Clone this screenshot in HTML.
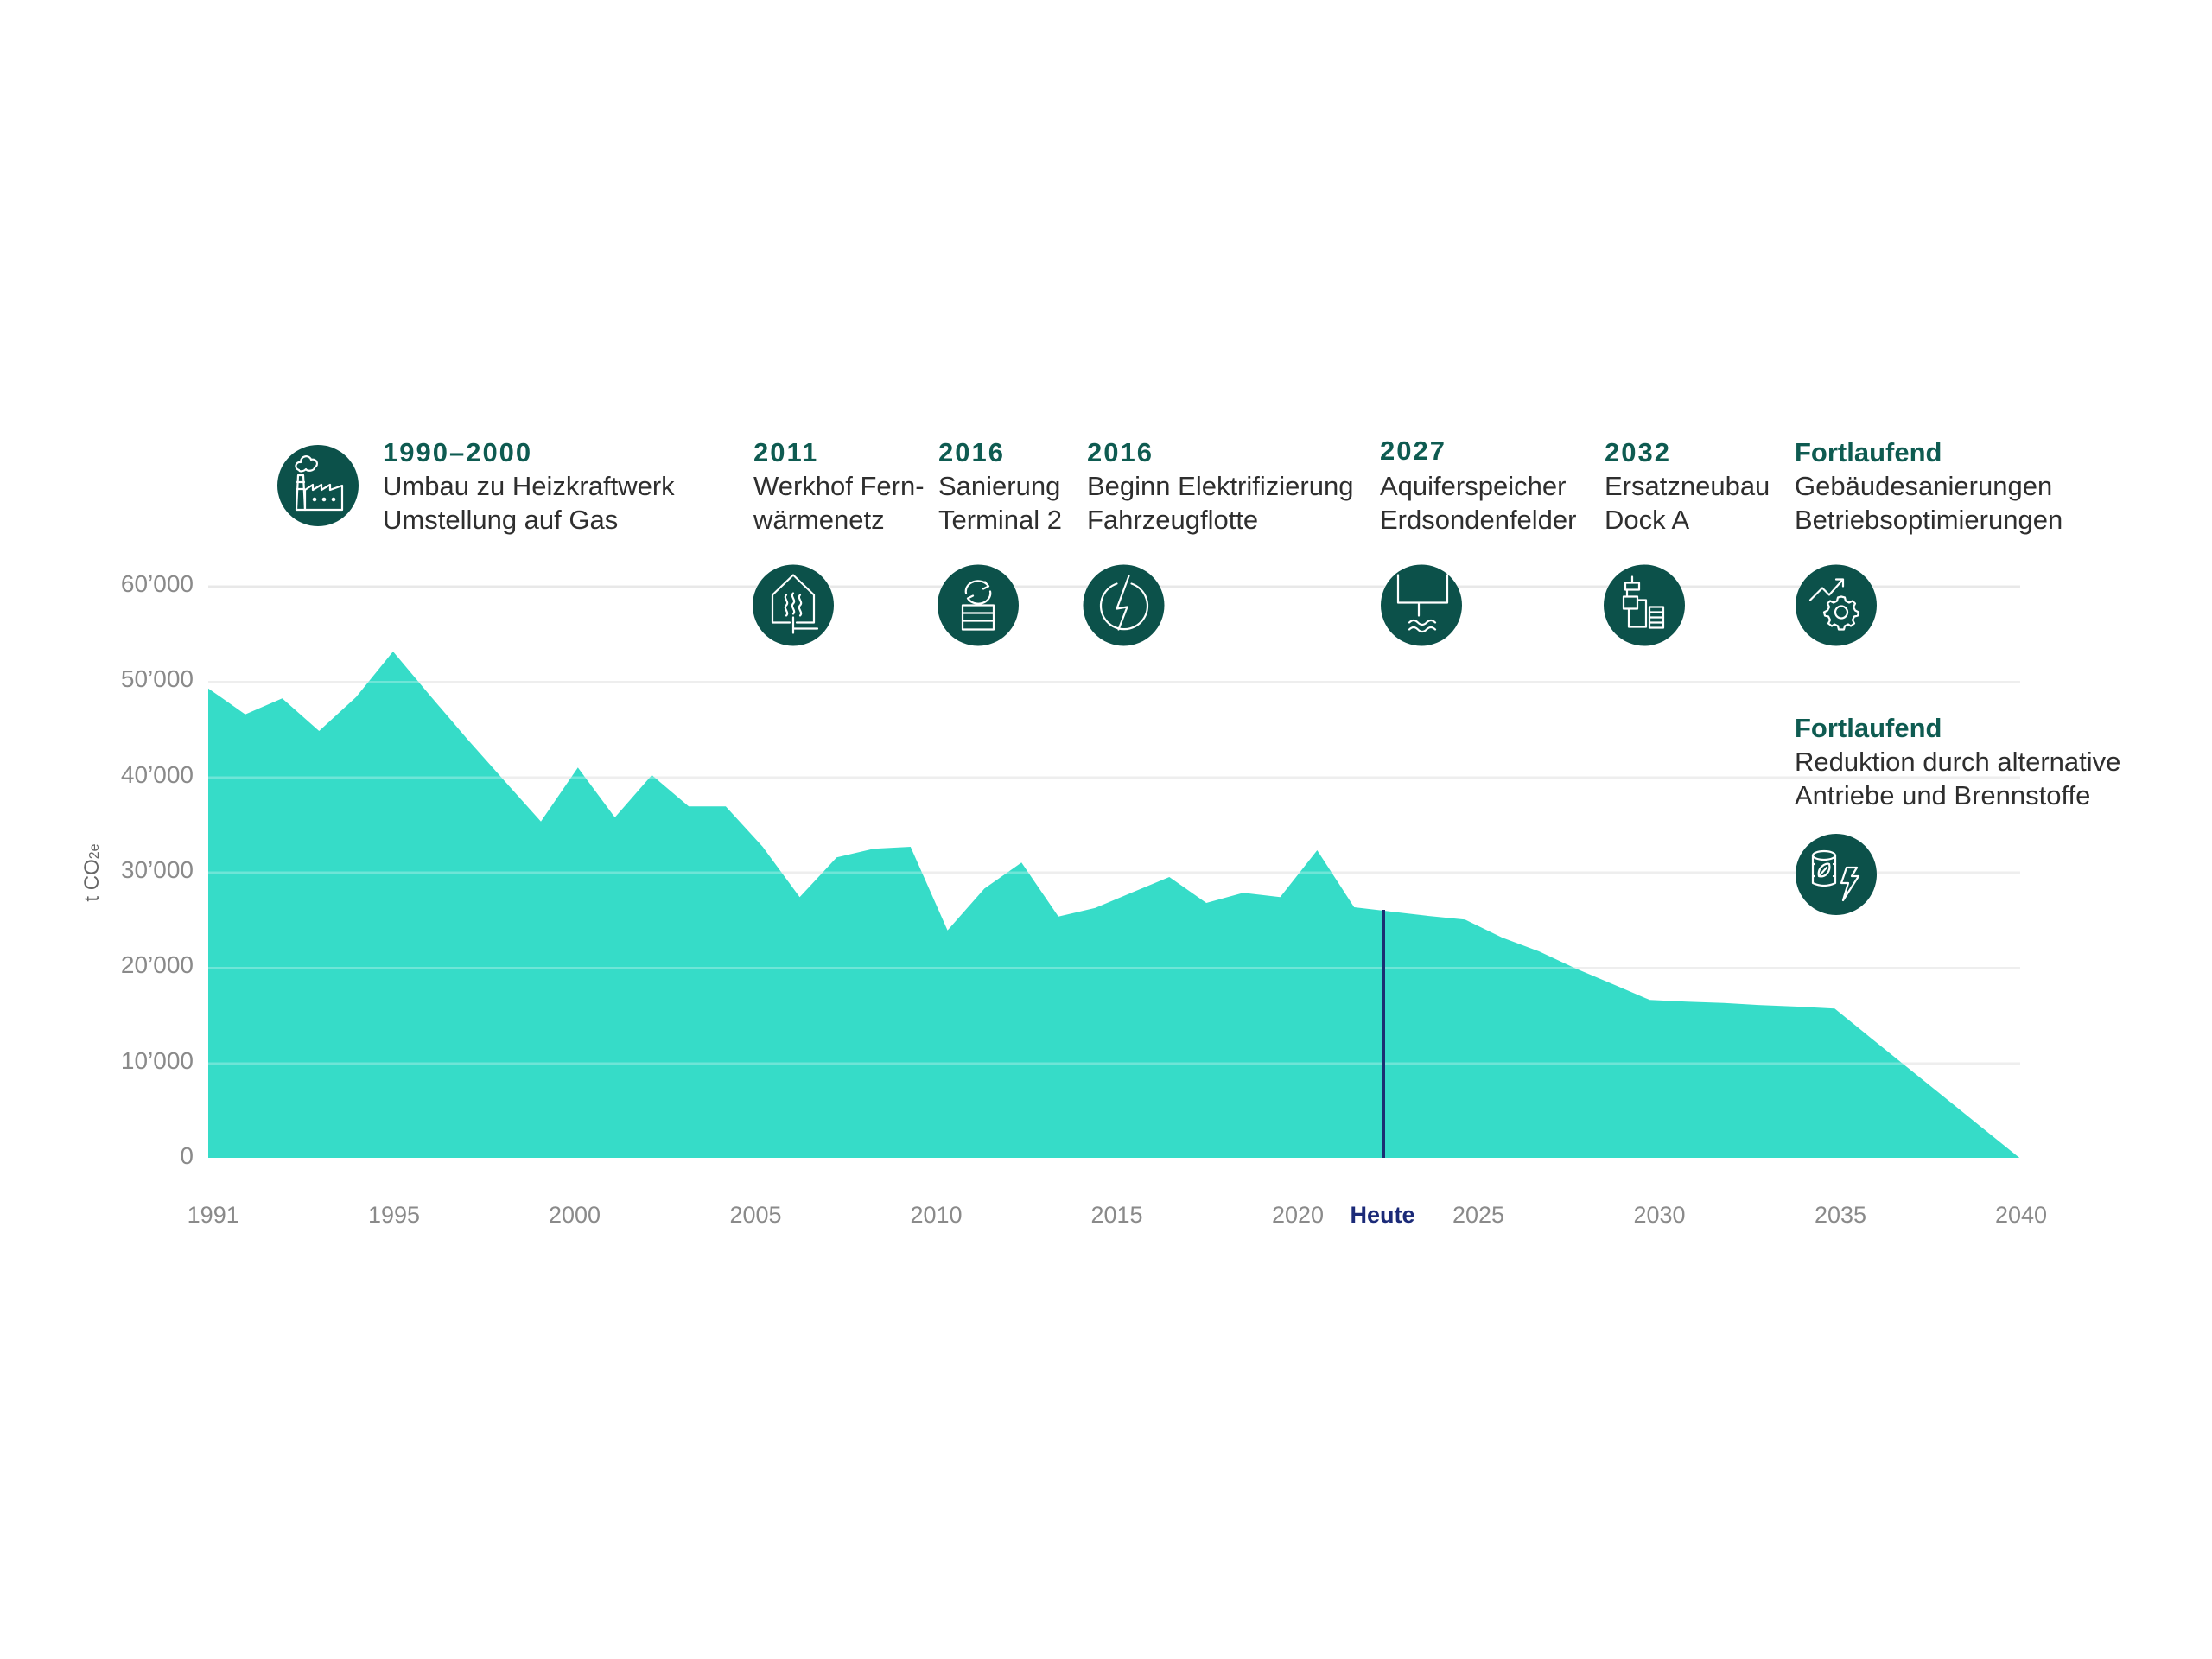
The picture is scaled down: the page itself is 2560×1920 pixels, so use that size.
<!DOCTYPE html>
<html><head><meta charset="utf-8"><style>
html,body{margin:0;padding:0;background:#fff;}
svg{display:block;}
text{font-family:"Liberation Sans",Arial,sans-serif;}
.t{font-size:31px;fill:#2e2e2e;}
.h{font-size:31px;font-weight:bold;fill:#0e5b51;}
.hy{font-size:31px;font-weight:bold;fill:#0e5b51;letter-spacing:2px;}
.yl{font-size:28px;fill:#8a8a8a;text-anchor:end;}
.xl{font-size:27px;fill:#8a8a8a;text-anchor:middle;}
.ic{fill:none;stroke:#fff;stroke-width:2.2;stroke-linecap:round;stroke-linejoin:round;}
</style></head><body>
<svg width="2560" height="1920" viewBox="0 0 2560 1920" xmlns="http://www.w3.org/2000/svg">
<rect width="2560" height="1920" fill="#fff"/>
<!-- gridlines under -->
<g stroke="#e8e8e8" stroke-width="3">
<line x1="241" y1="679" x2="2338" y2="679"/>
<line x1="241" y1="789.5" x2="2338" y2="789.5"/>
<line x1="241" y1="900" x2="2338" y2="900"/>
<line x1="241" y1="1010" x2="2338" y2="1010"/>
<line x1="241" y1="1120.5" x2="2338" y2="1120.5"/>
<line x1="241" y1="1231" x2="2338" y2="1231"/>
</g>
<!-- area -->
<path fill="#36dcc8" d="M241,1340 L241,796.7 L283.8,826.7 L326.6,808.3 L369.3,846 L412.1,806.7 L454.9,754 L497.7,805 L540.5,855 L583.2,903 L626,950.7 L668.8,888.3 L711.6,946 L754.4,897 L797.1,933.3 L839.9,933.3 L882.7,980 L925.5,1038.3 L968.3,992.3 L1011,982.3 L1053.8,980 L1096.6,1076.7 L1139.4,1028.3 L1182.2,998.3 L1224.9,1060.7 L1267.7,1050.7 L1310.5,1032.7 L1353.3,1015 L1396.1,1045 L1438.8,1033.3 L1481.6,1038.3 L1524.4,984 L1567.2,1050 L1610,1055 L1652.7,1060 L1695.5,1064.3 L1738.3,1085 L1781.1,1101 L1823.9,1121 L1866.6,1139 L1909.4,1157.3 L1952.2,1159.3 L1995,1160.7 L2037.8,1163.3 L2080.5,1165 L2123.3,1167.3 L2166.1,1202 L2208.9,1236.5 L2251.7,1271 L2294.4,1305.5 L2337.2,1340 Z"/>
<!-- gridlines over area -->
<g stroke="#ffffff" stroke-opacity="0.28" stroke-width="3">
<line x1="241" y1="789.5" x2="2338" y2="789.5"/>
<line x1="241" y1="900" x2="2338" y2="900"/>
<line x1="241" y1="1010" x2="2338" y2="1010"/>
<line x1="241" y1="1120.5" x2="2338" y2="1120.5"/>
<line x1="241" y1="1231" x2="2338" y2="1231"/>
</g>
<!-- Heute line -->
<line x1="1601" y1="1053" x2="1601" y2="1340" stroke="#1b2f72" stroke-width="4"/>

<!-- y labels -->
<text class="yl" x="224" y="685">60’000</text>
<text class="yl" x="224" y="795">50’000</text>
<text class="yl" x="224" y="906">40’000</text>
<text class="yl" x="224" y="1016">30’000</text>
<text class="yl" x="224" y="1126">20’000</text>
<text class="yl" x="224" y="1237">10’000</text>
<text class="yl" x="224" y="1347">0</text>
<text transform="translate(114,1010) rotate(-90)" text-anchor="middle" font-size="24" fill="#666">t CO<tspan font-size="16">2e</tspan></text>

<!-- x labels -->
<text class="xl" x="246.7" y="1415">1991</text>
<text class="xl" x="456" y="1415">1995</text>
<text class="xl" x="665" y="1415">2000</text>
<text class="xl" x="874.5" y="1415">2005</text>
<text class="xl" x="1083.5" y="1415">2010</text>
<text class="xl" x="1292.5" y="1415">2015</text>
<text class="xl" x="1502" y="1415">2020</text>
<text x="1600" y="1415" font-size="27" font-weight="bold" fill="#1b2a78" text-anchor="middle">Heute</text>
<text class="xl" x="1711" y="1415">2025</text>
<text class="xl" x="1920.5" y="1415">2030</text>
<text class="xl" x="2130" y="1415">2035</text>
<text class="xl" x="2339" y="1415">2040</text>

<!-- annotation texts -->
<text class="hy" x="443" y="534">1990–2000</text>
<text class="t" x="443" y="573">Umbau zu Heizkraftwerk</text>
<text class="t" x="443" y="612">Umstellung auf Gas</text>

<text class="hy" x="872" y="534">2011</text>
<text class="t" x="872" y="573">Werkhof Fern-</text>
<text class="t" x="872" y="612">wärmenetz</text>

<text class="hy" x="1086" y="534">2016</text>
<text class="t" x="1086" y="573">Sanierung</text>
<text class="t" x="1086" y="612">Terminal 2</text>

<text class="hy" x="1258" y="534">2016</text>
<text class="t" x="1258" y="573">Beginn Elektrifizierung</text>
<text class="t" x="1258" y="612">Fahrzeugflotte</text>

<text class="hy" x="1597" y="532">2027</text>
<text class="t" x="1597" y="573">Aquiferspeicher</text>
<text class="t" x="1597" y="612">Erdsondenfelder</text>

<text class="hy" x="1857" y="534">2032</text>
<text class="t" x="1857" y="573">Ersatzneubau</text>
<text class="t" x="1857" y="612">Dock A</text>

<text class="h" x="2077" y="534">Fortlaufend</text>
<text class="t" x="2077" y="573">Gebäudesanierungen</text>
<text class="t" x="2077" y="612">Betriebsoptimierungen</text>

<text class="h" x="2077" y="853">Fortlaufend</text>
<text class="t" x="2077" y="892">Reduktion durch alternative</text>
<text class="t" x="2077" y="931">Antriebe und Brennstoffe</text>

<!-- icons -->
<g fill="#0c514a">
<circle cx="368" cy="562" r="47"/>
<circle cx="918" cy="700.5" r="47"/>
<circle cx="1132" cy="700.5" r="47"/>
<circle cx="1300.5" cy="700.5" r="47"/>
<circle cx="1645" cy="700.5" r="47"/>
<circle cx="1903" cy="700.5" r="47"/>
<circle cx="2125" cy="700.5" r="47"/>
<circle cx="2125" cy="1012" r="47"/>
</g>
<!-- factory -->
<g class="ic" transform="translate(368,562)">
<path d="M-25,28 L-23,-12 L-17,-12 L-15,28 Z"/>
<path d="M-24,-4 L-16,-4 M-24,4 L-16,4"/>
<path d="M-22,-18 C-28,-20 -26,-28 -20,-27 C-20,-35 -10,-36 -8,-30 C-2,-32 2,-24 -4,-21 C-4,-17 -12,-16 -14,-19 C-17,-16 -22,-16 -22,-18 Z"/>
<path d="M-15,28 L-15,5 L-6,-1 L-6,5 L4,-1 L4,5 L14,-1 L14,5 L28,0 L28,28 Z"/>
<circle cx="-4" cy="16" r="1.2"/><circle cx="7" cy="16" r="1.2"/><circle cx="18" cy="16" r="1.2"/>
</g>
<!-- house heat -->
<g class="ic" transform="translate(918,700.5)">
<path d="M-24,20 L-24,-12 L0,-35 L24,-12 L24,20 L4,20 M-4,20 L-24,20"/>
<path d="M-8,-12 c-4,4 4,8 0,12 c-4,4 4,8 0,12"/>
<path d="M0,-14 c-4,4 4,8 0,12 c-4,4 4,8 0,12"/>
<path d="M8,-12 c-4,4 4,8 0,12 c-4,4 4,8 0,12"/>
<path d="M0,14 L0,32 M0,27 L28,27"/>
</g>
<!-- sanierung -->
<g class="ic" transform="translate(1132,700.5)">
<path d="M-14,-14 A14,12 0 0 1 12,-22 M8,-27 L12,-22 L6,-19"/>
<path d="M14,-16 A14,12 0 0 1 -12,-8 M-8,-4 L-12,-8 L-6,-11"/>
<rect x="-18" y="0" width="36" height="28"/>
<path d="M-18,9 L18,9 M-18,18 L18,18"/>
</g>
<!-- lightning -->
<g class="ic" transform="translate(1300.5,700.5)">
<path d="M-8,-25 A27,27 0 1 0 9,-25"/>
<path d="M6,-34 L-8,4 L4,2 L-6,28"/>
</g>
<!-- aquifer -->
<g class="ic" transform="translate(1645,700.5)">
<path d="M-27,-35 L-27,-3 L-3,-3 L-3,12 M-3,-3 L30,-3 L30,-35"/>
<path d="M-14,20 q5,-5 10,0 t10,0 t10,0"/>
<path d="M-14,28 q5,-5 10,0 t10,0 t10,0"/>
</g>
<!-- ersatzneubau -->
<g class="ic" transform="translate(1903,700.5)">
<path d="M-14,-33 L-14,-26 M-22,-26 L-6,-26 L-6,-18 L-22,-18 Z"/>
<path d="M-20,-18 L-20,-10 L-24,-10 L-24,4 L-8,4 L-8,-10 L-12,-10 M-20,-10 L-12,-10"/>
<path d="M-18,4 L-18,25 L2,25 L2,-6 L-8,-6"/>
<rect x="6" y="2" width="16" height="24"/>
<path d="M6,8 L22,8 M6,14 L22,14 M6,20 L22,20"/>
</g>
<!-- gear + arrow -->
<g class="ic" transform="translate(2125,700.5)">
<path d="M-30,-6 L-16,-20 L-8,-12 L8,-30 M0,-30 L8,-30 L8,-22"/>
<circle cx="6" cy="8" r="7"/>
<path d="M6,-10 L10,-9 L11,-5 L15,-3 L19,-5 L22,-2 L20,2 L22,6 L26,8 L25,12 L21,13 L19,17 L21,21 L17,24 L14,22 L10,24 L9,28 L3,28 L2,24 L-2,22 L-5,24 L-9,21 L-7,17 L-9,13 L-13,12 L-14,8 L-10,6 L-8,2 L-10,-2 L-7,-5 L-3,-3 L1,-5 L2,-9 Z"/>
</g>
<!-- barrel + bolt -->
<g class="ic" transform="translate(2125,1012)">
<ellipse cx="-14" cy="-22" rx="13" ry="5"/>
<path d="M-27,-22 L-27,10 Q-14,16 -1,10 L-1,-22"/>
<path d="M-27,-12 L-25,-12 M-27,2 L-25,2 M-3,-12 L-1,-12 M-3,2 L-1,2"/>
<path d="M-20,2 C-22,-8 -12,-14 -8,-12 C-6,-4 -12,4 -20,2 Z M-20,2 L-11,-8"/>
<path d="M12,-8 L6,10 L14,10 L8,30 L26,2 L18,2 L24,-8 Z"/>
</g>
</svg>
</body></html>
